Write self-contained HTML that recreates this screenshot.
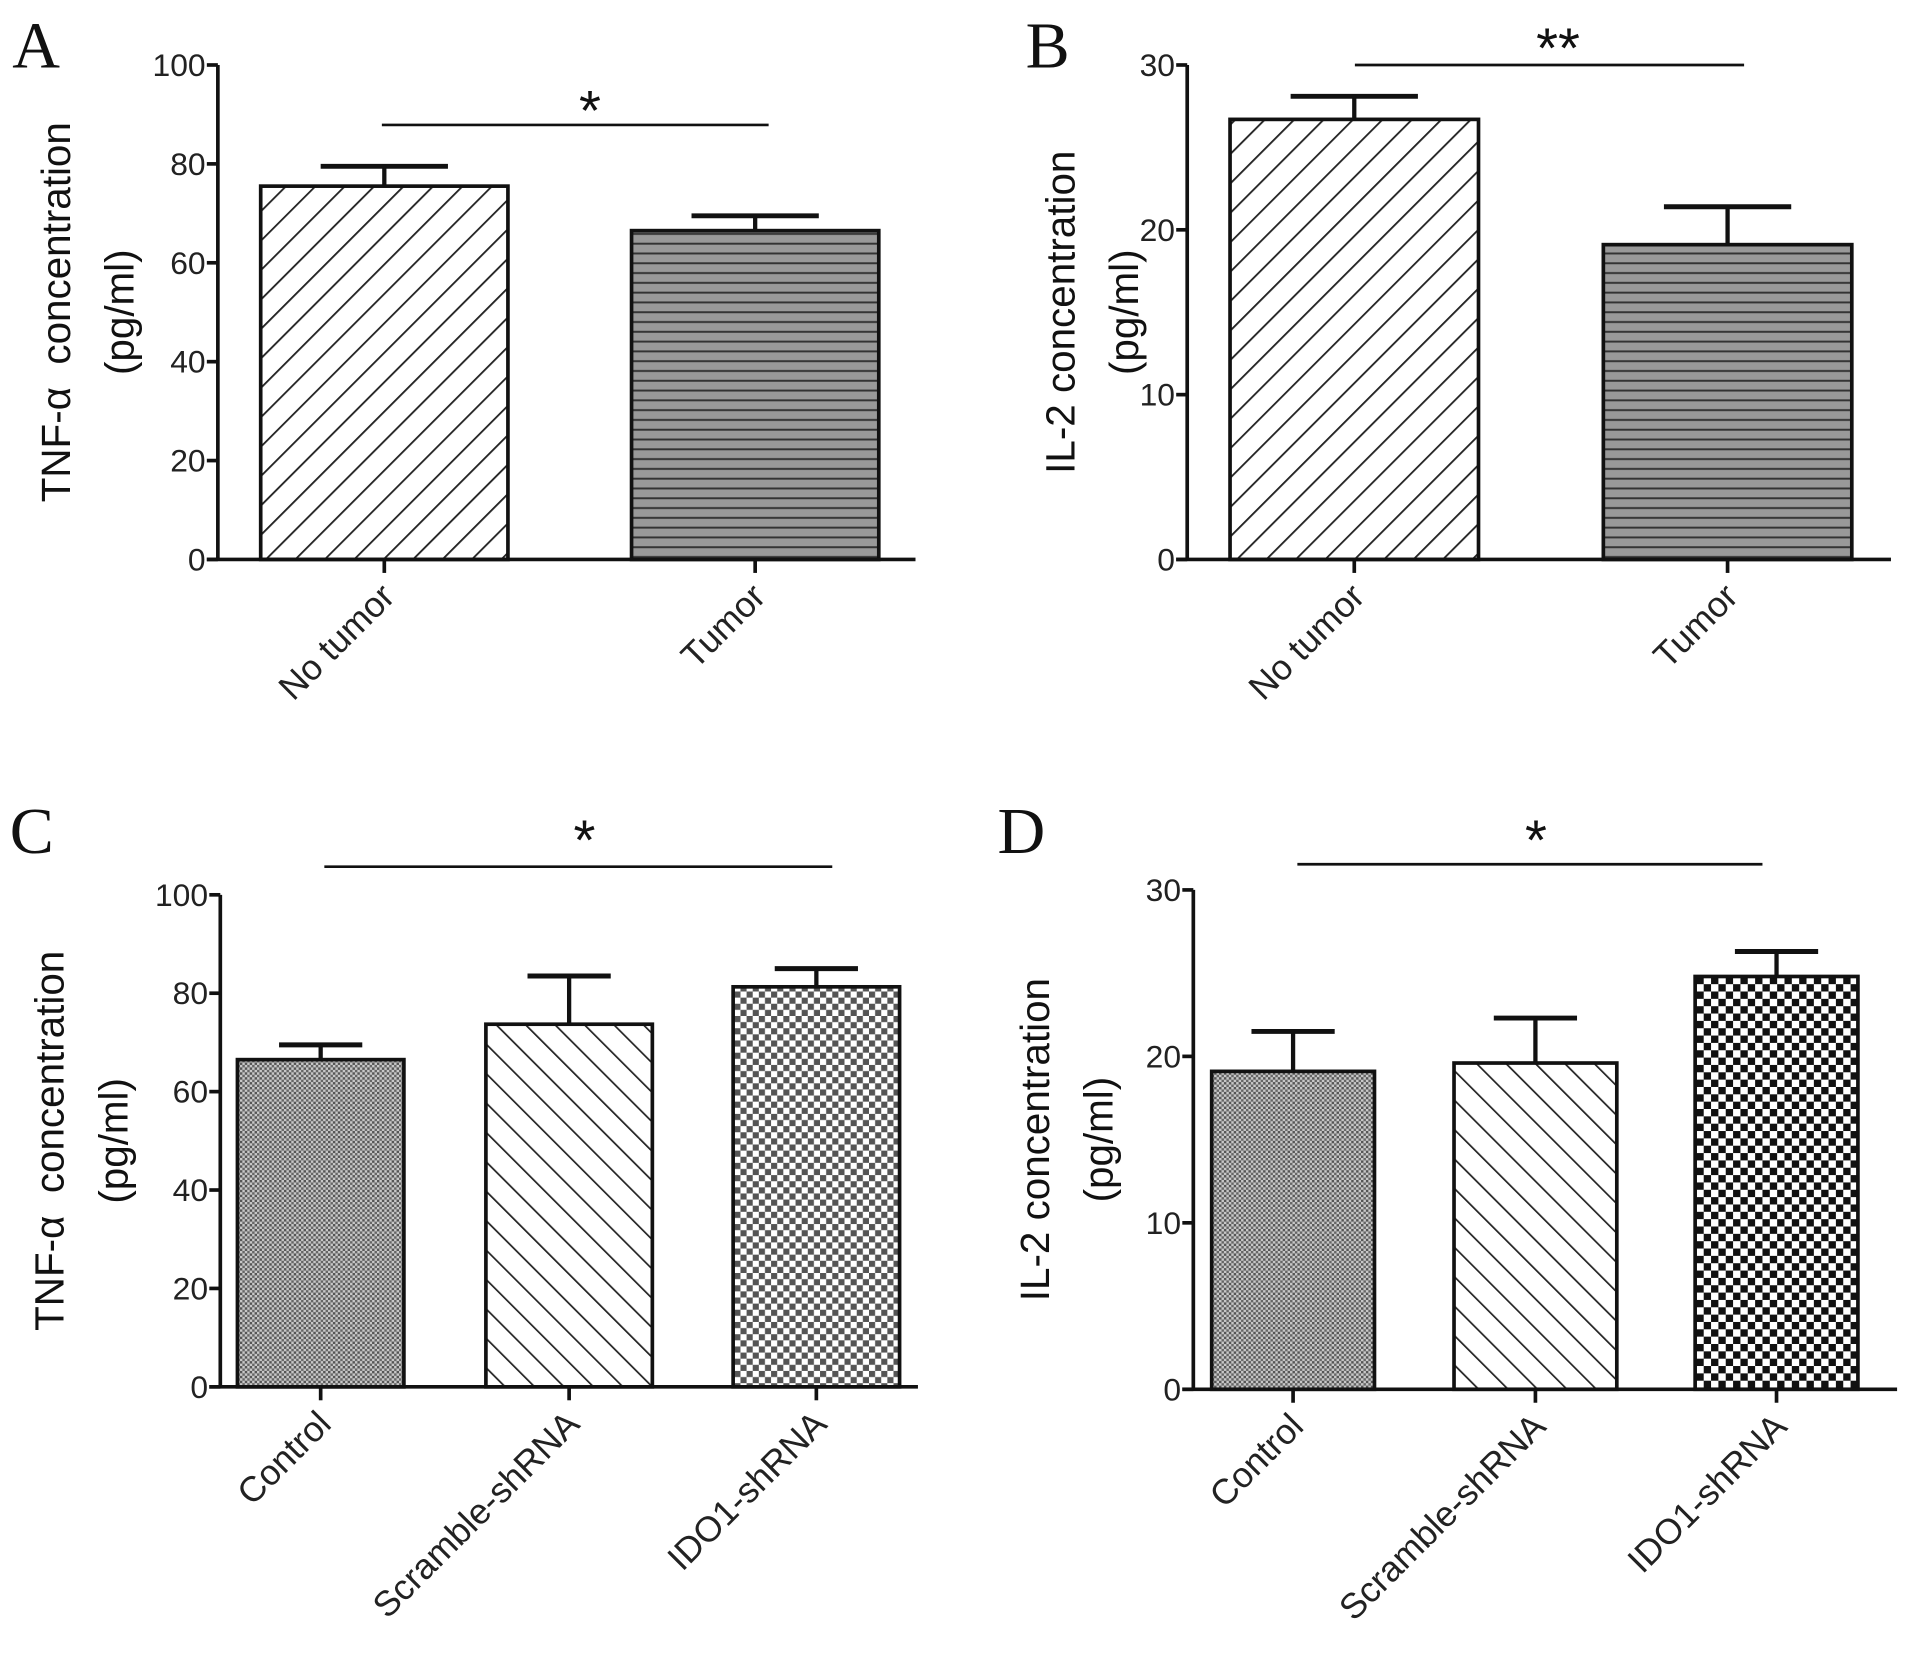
<!DOCTYPE html>
<html><head><meta charset="utf-8"><style>
html,body{margin:0;padding:0;background:#fff;}
svg{display:block;font-family:"Liberation Sans",Arial,sans-serif;}
</style></head><body>
<svg id="fig" width="1913" height="1655" viewBox="0 0 1563 1352">
<defs>
<pattern id="pSlash" width="17" height="17" patternUnits="userSpaceOnUse" patternTransform="rotate(45)"><rect width="17" height="17" fill="#fff"/><line x1="0" y1="0" x2="0" y2="17" stroke="#222" stroke-width="3"/></pattern>
<pattern id="pBack" width="17" height="17" patternUnits="userSpaceOnUse" patternTransform="rotate(-45)"><rect width="17" height="17" fill="#fff"/><line x1="0" y1="0" x2="0" y2="17" stroke="#222" stroke-width="2.8"/></pattern>
<pattern id="pHoriz" width="8" height="8" patternUnits="userSpaceOnUse"><rect width="8" height="8" fill="#999"/><line x1="0" y1="7" x2="8" y2="7" stroke="#333" stroke-width="1.6"/></pattern>
<pattern id="pDots" width="4" height="4" patternUnits="userSpaceOnUse"><rect width="4" height="4" fill="#c8c8c8"/><rect width="2" height="2" fill="#555"/><rect x="2" y="2" width="2" height="2" fill="#666"/></pattern>
<pattern id="pCheckLight" width="10" height="10" patternUnits="userSpaceOnUse"><rect width="10" height="10" fill="#fff"/><rect width="5" height="5" fill="#555"/><rect x="5" y="5" width="5" height="5" fill="#555"/></pattern>
<pattern id="pCheck" width="12" height="12" patternUnits="userSpaceOnUse"><rect width="12" height="12" fill="#fff"/><rect width="6" height="6" fill="#111"/><rect x="6" y="6" width="6" height="6" fill="#111"/></pattern>
</defs>
</svg>
<script>
// Panel A
const catsA = ["No tumor","Tumor"];
const valsA = [75.5, 66.5];
const errA = [79.5, 69.5];
const ticksA = [0,20,40,60,80,100];
// Panel B
const catsB = ["No tumor","Tumor"];
const valsB = [26.7, 19.1];
const errB = [28.1, 21.4];
const ticksB = [0,10,20,30];
// Panel C
const catsC = ["Control","Scramble-shRNA","IDO1-shRNA"];
const valsC = [66.5, 73.7, 81.3];
const errC = [69.5, 83.5, 85.0];
const ticksC = [0,20,40,60,80,100];
// Panel D
const catsD = ["Control","Scramble-shRNA","IDO1-shRNA"];
const valsD = [19.1, 19.6, 24.8];
const errD = [21.5, 22.3, 26.3];
const ticksD = [0,10,20,30];

const NS="http://www.w3.org/2000/svg";
const svg=document.getElementById('fig');
function mk(tag,attrs,parent,text){const e=document.createElementNS(NS,tag);for(const k in attrs)e.setAttribute(k,attrs[k]);if(text!==undefined)e.textContent=text;(parent||svg).appendChild(e);return e;}

function panel(cfg){
  const g=mk('g',{});
  
  
  const y=v=>cfg.y0-(v/cfg.max)*(cfg.y0-cfg.yTop);
  const L=mk('text',{x:cfg.letterX,y:cfg.letterY,'font-family':'Liberation Serif,serif','font-size':54,fill:'#111'},g,cfg.letter);
  
  
  cfg.cats.forEach((c,i)=>{
    const bx=cfg.barX[i],bw=cfg.barW,v=cfg.vals[i],e=cfg.errs[i];
    const cx=bx+bw/2;
    const el=mk('line',{x1:cx,y1:y(v),x2:cx,y2:y(e),stroke:'#111','stroke-width':3.5},g);
    
    
    const cap=mk('line',{x1:cx-cfg.capW,y1:y(e),x2:cx+cfg.capW,y2:y(e),stroke:'#111','stroke-width':4},g);
    
    
    const r=mk('rect',{x:bx,y:y(v),width:bw,height:cfg.y0-y(v),fill:'url(#'+cfg.fills[i]+')',stroke:'#111','stroke-width':3},g);
    
    
    const tk=mk('line',{x1:cx,y1:cfg.y0,x2:cx,y2:cfg.y0+11,stroke:'#111','stroke-width':3},g);
    
    
    const tx=cx+10,ty=cfg.y0+32;
    const t=mk('text',{x:tx,y:ty,'font-size':29,fill:'#222','text-anchor':'end',transform:'rotate(-45 '+tx+' '+ty+')'},g,c);
    
    
  });
  const ya=mk('line',{x1:cfg.ax,y1:cfg.yTop,x2:cfg.ax,y2:cfg.y0,stroke:'#111','stroke-width':3},g);
  
  
  const xa=mk('line',{x1:cfg.ax-9,y1:cfg.y0,x2:cfg.xEnd,y2:cfg.y0,stroke:'#111','stroke-width':3},g);
  
  
  cfg.ticks.forEach(t=>{
    const tl=mk('line',{x1:cfg.ax-9,y1:y(t),x2:cfg.ax,y2:y(t),stroke:'#111','stroke-width':3},g);
    
    
    const tt=mk('text',{x:cfg.ax-10,y:y(t)+9,'font-size':26,fill:'#222','text-anchor':'end'},g,String(t));
    
    
  });
  const mid=(cfg.y0+cfg.yTop)/2;
  const t1=mk('text',{x:cfg.t1x,y:mid,'font-size':33,fill:'#111','text-anchor':'middle',transform:'rotate(-90 '+cfg.t1x+' '+mid+')'},g,cfg.title);
  
  
  const t2=mk('text',{x:cfg.t1x+52,y:mid,'font-size':33,fill:'#111','text-anchor':'middle',transform:'rotate(-90 '+(cfg.t1x+52)+' '+mid+')'},g,'(pg/ml)');
  
  
  const sl=mk('line',{x1:cfg.sig[0],y1:cfg.sig[2],x2:cfg.sig[1],y2:cfg.sig[2],stroke:'#111','stroke-width':2.2},g);
  
  
  const st=mk('text',{x:(cfg.sig[0]+cfg.sig[1])/2+cfg.starDx,y:cfg.sig[2]+cfg.starDy,'font-size':46,fill:'#111','text-anchor':'middle'},g,cfg.star);
  
  
}

panel({letter:'A',letterX:10,letterY:55,cats:catsA,vals:valsA,errs:errA,ticks:ticksA,max:100,ax:178,xEnd:748,y0:457,yTop:53,
  barX:[213,516],barW:202,capW:52,fills:['pSlash','pHoriz'],title:'TNF-\u03b1\u00a0\u00a0concentration',t1x:57,sig:[312,628,102],star:'*',starDx:12,starDy:4});
panel({letter:'B',letterX:838,letterY:55,cats:catsB,vals:valsB,errs:errB,ticks:ticksB,max:30,ax:970,xEnd:1545,y0:457,yTop:53,
  barX:[1005,1310],barW:203,capW:52,fills:['pSlash','pHoriz'],title:'IL-2 concentration',t1x:878,sig:[1107,1425,53],star:'**',starDx:7,starDy:2});
panel({letter:'C',letterX:8,letterY:697,cats:catsC,vals:valsC,errs:errC,ticks:ticksC,max:100,ax:180,xEnd:750,y0:1133,yTop:731,
  barX:[194,397,599],barW:136,capW:34,fills:['pDots','pBack','pCheckLight'],title:'TNF-\u03b1\u00a0\u00a0concentration',t1x:52,sig:[265,680,708],star:'*',starDx:5,starDy:-6});
panel({letter:'D',letterX:815,letterY:697,cats:catsD,vals:valsD,errs:errD,ticks:ticksD,max:30,ax:975,xEnd:1550,y0:1135,yTop:727,
  barX:[990,1188,1385],barW:133,capW:34,fills:['pDots','pBack','pCheck'],title:'IL-2 concentration',t1x:857,sig:[1060,1440,706],star:'*',starDx:5,starDy:-4});
</script>
</body></html>
